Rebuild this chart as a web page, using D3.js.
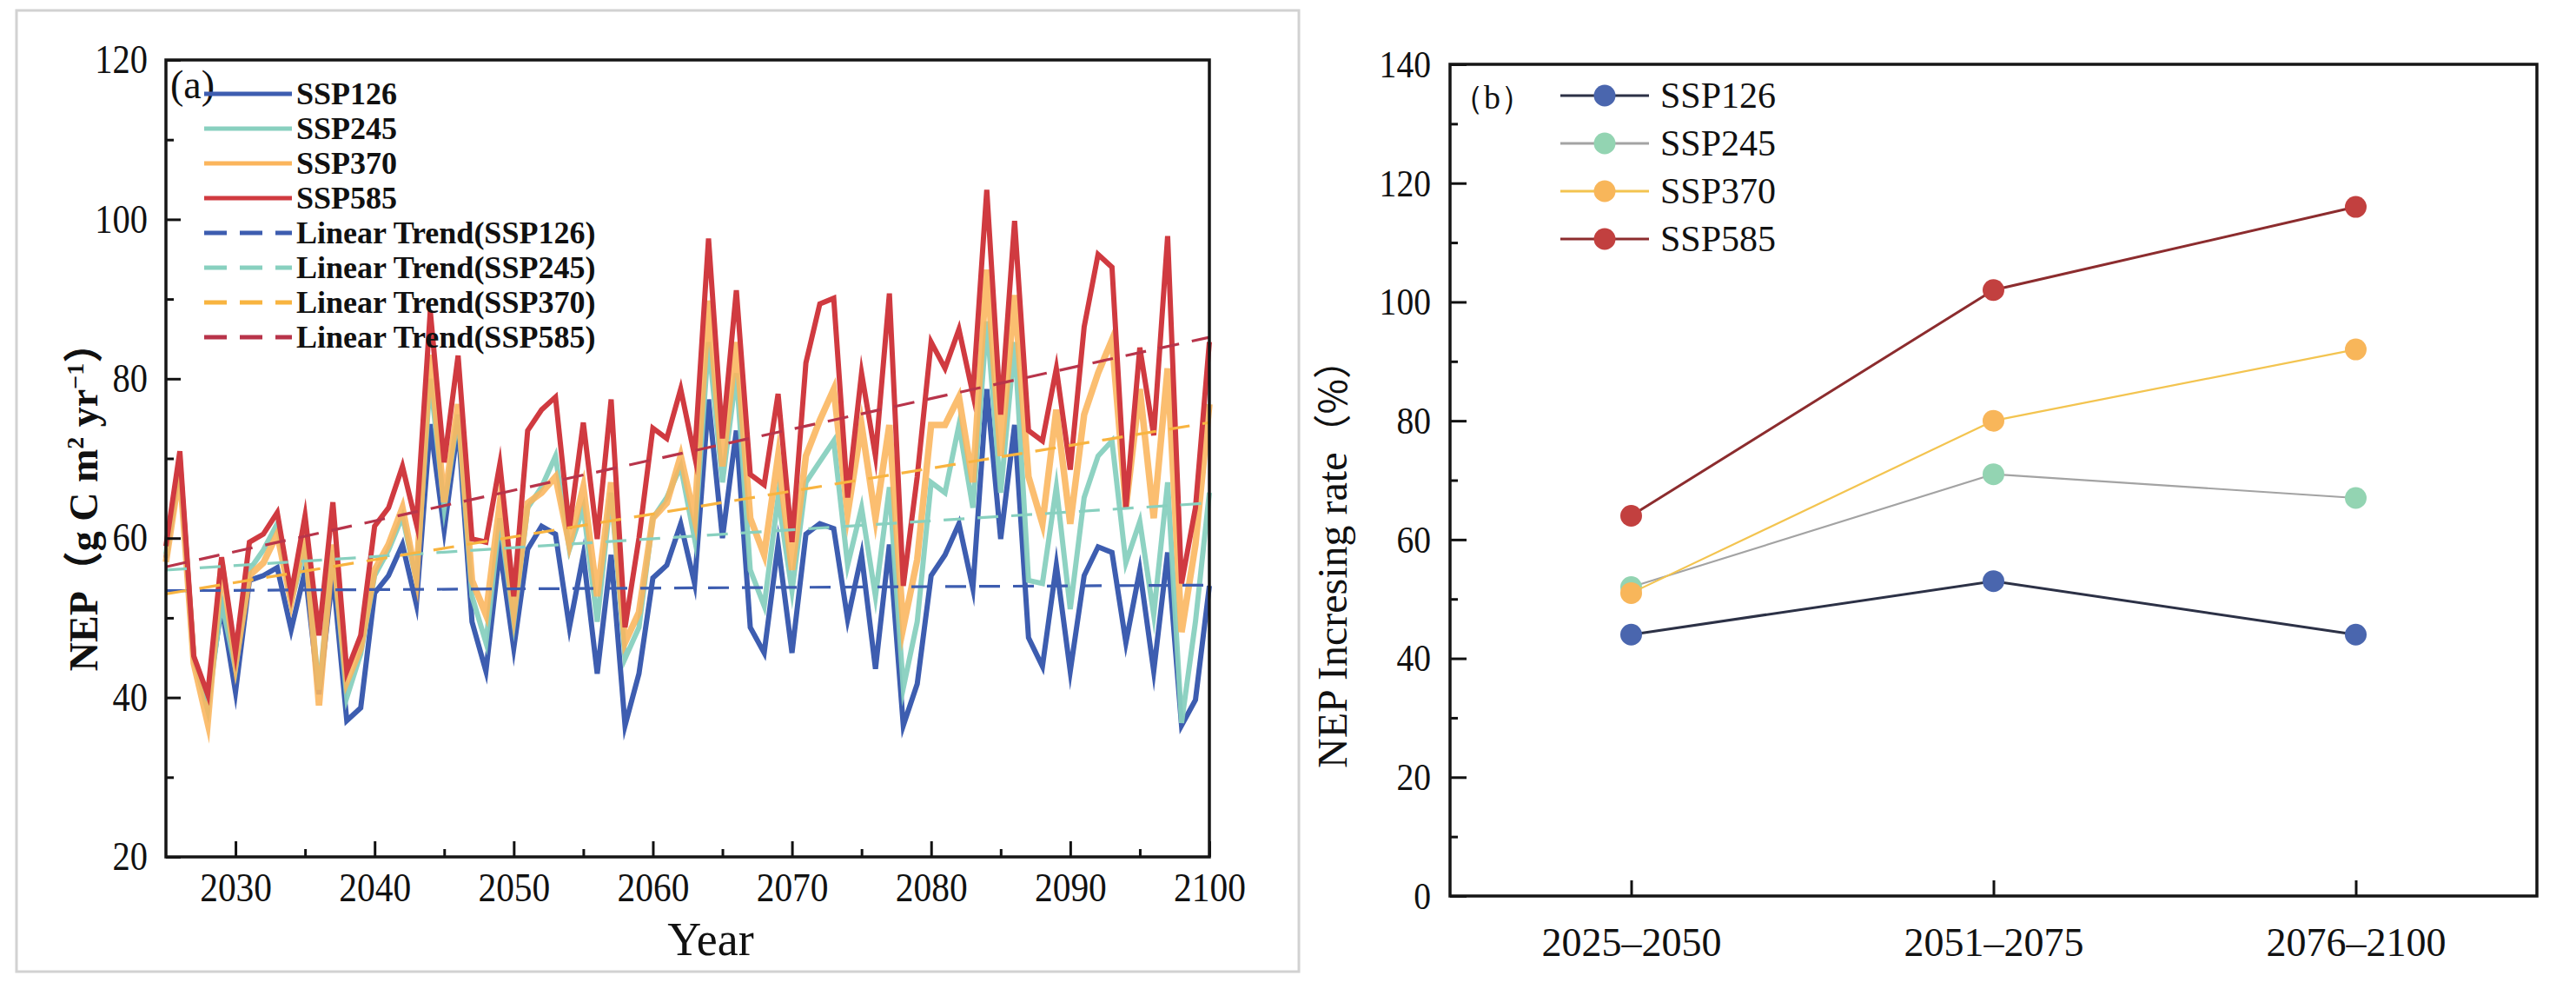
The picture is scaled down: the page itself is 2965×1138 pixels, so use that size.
<!DOCTYPE html>
<html>
<head>
<meta charset="utf-8">
<script src="https://cdn.jsdelivr.net/npm/d3@7"></script>
<style>
  html, body { margin: 0; padding: 0; background: #ffffff; }
  svg { display: block; }
  text { font-family: "Liberation Serif", "Times New Roman", serif; fill: #111; }
</style>
</head>
<body>
<svg id="chart" width="2965" height="1138"></svg>
<script>
// ---------------- DATA ----------------
const years = d3.range(2025, 2101);
const scenarios = ["SSP126", "SSP245", "SSP370", "SSP585"];

const ssp126 = [57.5,69.6,45,39.7,51.4,40.7,54.7,55.3,56.3,48.5,55.9,40.4,55.5,37.1,38.7,53.1,55.3,59.2,51.7,74.3,
  61,74.2,49.5,43.3,58.6,46.2,58.6,61.5,60.5,48.8,57.9,43,57.9,36.5,43,55,56.6,61.8,54.3,77.4,
  60,73.5,48.8,45.6,59.2,45.6,60.5,61.8,61.2,49.8,57.9,43.6,59.2,36.5,41.7,55.3,57.9,61.8,53.7,78.7,
  59.9,74.2,47.5,43.9,56.6,43.3,55.3,58.9,58.2,46.9,56,43.3,58.2,36.5,39.7,54];
const ssp245 = [58,70,45,38.4,52,43.6,56,58.5,61.8,52,58.5,41,58.5,40,45.5,55.3,58.5,62.7,54.7,80,
  63.8,75.5,52.7,46.9,62.5,49.5,63.8,66.4,70.3,58.6,63.8,49.5,65.7,44.9,48.8,62.5,65.1,69,59.9,84.6,
  67,80.7,56,51.5,65.1,53.4,67,69.6,72.2,56.6,63.8,52.7,66.4,41.2,49.5,67,65.7,74.2,63.8,87.2,
  65.7,84.6,54.7,54.3,66.4,51.1,65.1,70.3,72.2,56.9,62.1,50.4,67,36.8,49.5,65.7];
const ssp370 = [57,68.5,44.3,36.8,56.9,44.3,55.3,56.9,60.5,52,60.5,39,59.2,42,46.2,56,59.2,63.8,55,83,
  64.5,76.8,54.7,50.4,64.4,50.7,64.4,65.7,67.7,59.2,66.4,52.7,67,46.9,50.7,62.5,64.4,70.3,62.5,89.8,
  69,84.6,62.5,57.9,70.3,56,70.3,74.8,78.7,63.1,74.2,62.5,74.2,48.8,57.3,74.2,74.2,77.7,67,93.7,
  70.3,90.5,67.7,61.8,76.1,61.8,75.5,80.7,84.9,63.8,78.7,62.5,81.3,48.2,59.2,76.8];
const ssp585 = [59,70.9,45.2,40.4,57.6,45.6,59.5,60.5,63.2,53,62.8,47.8,64.5,43.3,47.8,61.5,63.8,69,61.8,88.5,
  69.5,82.9,59.9,59.5,69.3,52.7,73.5,76.1,77.7,61.2,74.5,59.9,77.4,48.8,60,73.8,72.5,78.7,70.3,97.6,
  72.5,91.1,68,66.7,78.1,59.5,82,89.4,90.1,65.1,80.7,70.3,90.7,54,67.7,84.6,81.3,86.2,78.1,103.7,
  75.5,99.8,73.5,72.2,81.3,68.6,86.5,95.6,94,63.8,83.9,72.9,97.9,54.3,63.8,84.6];

// linear trend lines: values at 2025 and at 2100
const trendStart = [53.4, 56.0, 53.0, 56.4];
const trendEnd   = [54.1, 64.4, 74.5, 85.2];

// panel (b)
const periods = ["2025–2050", "2051–2075", "2076–2100"];
const rate126 = [44, 53, 44];
const rate245 = [52, 71, 67];
const rate370 = [51, 80, 92];
const rate585 = [64, 102, 116];

const yTicksA = [20, 40, 60, 80, 100, 120];
const xTicksA = [2030, 2040, 2050, 2060, 2070, 2080, 2090, 2100];
const yTicksB = [0, 20, 40, 60, 80, 100, 120, 140];

// ---------------- STYLE ----------------
const lineColors  = ["#3d5db0", "#88d0bf", "#fbb55c", "#d03a40"];
const trendColors = ["#3d5db0", "#88d0bf", "#f8b440", "#b8344a"];
const markerColors = ["#4a66ae", "#93d4b2", "#f8b65a", "#c2403f"];
const bLineColors = ["#2c3146", "#a3a3a3", "#f3c450", "#8c2c2e"];
const seriesA = [ssp126, ssp245, ssp370, ssp585];
const seriesB = [rate126, rate245, rate370, rate585];

const svg = d3.select("#chart");

function condense(sel, f) {
  sel.each(function () {
    const w = this.getComputedTextLength();
    if (w > 0) d3.select(this).attr("textLength", w * f).attr("lengthAdjust", "spacingAndGlyphs");
  });
}

// ================= PANEL (a) =================
const A = {left: 191, right: 1392, top: 69, bottom: 986};
const xA = d3.scaleLinear().domain([2025, 2100]).range([A.left, A.right]);
const yA = d3.scaleLinear().domain([20, 120]).range([A.bottom, A.top]);

// light image border around panel (a)
svg.append("rect").attr("x", 19).attr("y", 12).attr("width", 1476).attr("height", 1106)
  .attr("fill", "none").attr("stroke", "#d2d2d2").attr("stroke-width", 3);

const gA = svg.append("g");

// data lines
const lineA = d3.line().x((d, i) => xA(years[i])).y(d => yA(d));
const widthsA = [6, 6, 7.5, 6];
const opacA = [1, 0.95, 0.88, 1];
seriesA.forEach((s, k) => {
  gA.append("path").datum(s).attr("d", lineA)
    .attr("fill", "none").attr("stroke", lineColors[k])
    .attr("stroke-width", widthsA[k]).attr("stroke-opacity", opacA[k])
    .attr("stroke-linejoin", "miter").attr("stroke-miterlimit", 8);
});

// trend lines
scenarios.forEach((s, k) => {
  gA.append("line")
    .attr("x1", xA(2025)).attr("y1", yA(trendStart[k]))
    .attr("x2", xA(2100)).attr("y2", yA(trendEnd[k]))
    .attr("stroke", trendColors[k]).attr("stroke-width", 3.2)
    .attr("stroke-dasharray", "24,15");
});

// axes (inward ticks)
const axAx = gA.append("g").attr("transform", `translate(0,${A.bottom})`)
  .call(d3.axisBottom(xA).tickValues(xTicksA).tickFormat(d3.format("d")).tickSizeInner(-18).tickSizeOuter(0).tickPadding(18));
const axAxMinor = gA.append("g").attr("transform", `translate(0,${A.bottom})`)
  .call(d3.axisBottom(xA).tickValues(d3.range(2035, 2100, 10)).tickFormat("").tickSizeInner(-9).tickSizeOuter(0));
const ayA = gA.append("g").attr("transform", `translate(${A.left},0)`)
  .call(d3.axisLeft(yA).tickValues(yTicksA).tickSizeInner(-17).tickSizeOuter(0).tickPadding(21));
const ayAMinor = gA.append("g").attr("transform", `translate(${A.left},0)`)
  .call(d3.axisLeft(yA).tickValues([30, 50, 70, 90, 110]).tickFormat("").tickSizeInner(-9).tickSizeOuter(0));
[axAx, axAxMinor, ayA, ayAMinor].forEach(g => {
  g.select(".domain").remove();
  g.selectAll(".tick line").attr("stroke", "#111").attr("stroke-width", 3);
  g.selectAll(".tick text").attr("font-size", 46).attr("fill", "#111")
    .attr("font-family", "'Liberation Serif', serif");
});
condense(axAx.selectAll(".tick text"), 0.9);
condense(ayA.selectAll(".tick text"), 0.88);

// frame
gA.append("rect").attr("x", A.left).attr("y", A.top)
  .attr("width", A.right - A.left).attr("height", A.bottom - A.top)
  .attr("fill", "none").attr("stroke", "#151515").attr("stroke-width", 3.5);

// axis titles
gA.append("text").attr("x", 818).attr("y", 1099).attr("text-anchor", "middle")
  .attr("font-size", 54).text("Year");

const yLab = gA.append("text")
  .attr("transform", "translate(112,572) rotate(-90)")
  .attr("text-anchor", "middle").attr("font-size", 46).attr("font-weight", "bold");
yLab.append("tspan").text("NEP");
yLab.append("tspan").attr("font-family", "'Noto Sans CJK SC', sans-serif").attr("font-weight", "bold").text("（");
yLab.append("tspan").text("g C m");
yLab.append("tspan").attr("font-size", 28).attr("dy", -16).text("2");
yLab.append("tspan").attr("dy", 16).text(" yr");
yLab.append("tspan").attr("font-size", 28).attr("dy", -16).text("−1");
yLab.append("tspan").attr("dy", 16).attr("font-family", "'Noto Sans CJK SC', sans-serif").attr("font-weight", "bold").text("）");

// panel label
gA.append("text").attr("x", 196).attr("y", 113).attr("font-size", 46).text("(a)");

// legend
const legA = gA.append("g");
const legLabels = scenarios.concat(scenarios.map(s => `Linear Trend(${s})`));
legLabels.forEach((lab, i) => {
  const k = i % 4;
  const cy = 108 + i * 40;
  legA.append("line").attr("x1", 235).attr("x2", 336).attr("y1", cy).attr("y2", cy)
    .attr("stroke", i < 4 ? lineColors[k] : trendColors[k]).attr("stroke-width", 5)
    .attr("stroke-dasharray", i < 4 ? null : "26,15");
  legA.append("text").attr("x", 341).attr("y", cy + 12)
    .attr("font-size", 36).attr("font-weight", "bold").text(lab);
});

// ================= PANEL (b) =================
const B = {left: 1669, right: 2920, top: 74, bottom: 1031};
const xB = d3.scalePoint().domain(periods).range([B.left, B.right]).padding(0.5);
const yB = d3.scaleLinear().domain([0, 140]).range([B.bottom, B.top]);
const gB = svg.append("g");

const axBx = gB.append("g").attr("transform", `translate(0,${B.bottom})`)
  .call(d3.axisBottom(xB).tickSizeInner(-18).tickSizeOuter(0).tickPadding(36));
const ayB = gB.append("g").attr("transform", `translate(${B.left},0)`)
  .call(d3.axisLeft(yB).tickValues(yTicksB).tickSizeInner(-19).tickSizeOuter(0).tickPadding(22));
const ayBMinor = gB.append("g").attr("transform", `translate(${B.left},0)`)
  .call(d3.axisLeft(yB).tickValues([10, 30, 50, 70, 90, 110, 130]).tickFormat("").tickSizeInner(-9).tickSizeOuter(0));
[axBx, ayB, ayBMinor].forEach(g => {
  g.select(".domain").remove();
  g.selectAll(".tick line").attr("stroke", "#111").attr("stroke-width", 3);
  g.selectAll(".tick text").attr("font-size", 45).attr("fill", "#111")
    .attr("font-family", "'Liberation Serif', serif");
});
axBx.selectAll(".tick text").attr("font-size", 46);
condense(ayB.selectAll(".tick text"), 0.88);

gB.append("rect").attr("x", B.left).attr("y", B.top)
  .attr("width", B.right - B.left).attr("height", B.bottom - B.top)
  .attr("fill", "none").attr("stroke", "#151515").attr("stroke-width", 3.5);

const lineB = d3.line().x((d, i) => xB(periods[i])).y(d => yB(d));
const widthsB = [3, 2.2, 2.2, 3];
seriesB.forEach((s, k) => {
  gB.append("path").datum(s).attr("d", lineB).attr("fill", "none")
    .attr("stroke", bLineColors[k]).attr("stroke-width", widthsB[k]);
  gB.selectAll(null).data(s).enter().append("circle")
    .attr("cx", (d, i) => xB(periods[i])).attr("cy", d => yB(d)).attr("r", 12.5)
    .attr("fill", markerColors[k]);
});

// y title
const yLabB = gB.append("text").attr("transform", "translate(1550,638) rotate(-90)")
  .attr("text-anchor", "middle").attr("font-size", 48);
yLabB.append("tspan").text("NEP Incresing rate");
yLabB.append("tspan").attr("font-family", "'Noto Sans CJK SC', sans-serif").attr("font-size", 44).text("（%）");

// panel label
gB.append("text").attr("x", 1670).attr("y", 125).attr("font-size", 38)
  .attr("font-family", "'Noto Sans CJK SC', 'Liberation Serif', serif").text("（b）");

// legend
scenarios.forEach((lab, k) => {
  const cy = 110 + k * 55;
  gB.append("line").attr("x1", 1796).attr("x2", 1898).attr("y1", cy).attr("y2", cy)
    .attr("stroke", bLineColors[k]).attr("stroke-width", 3);
  gB.append("circle").attr("cx", 1847).attr("cy", cy).attr("r", 12.5).attr("fill", markerColors[k]);
  gB.append("text").attr("x", 1911).attr("y", cy + 14).attr("font-size", 42).text(lab);
});
</script>
</body>
</html>
